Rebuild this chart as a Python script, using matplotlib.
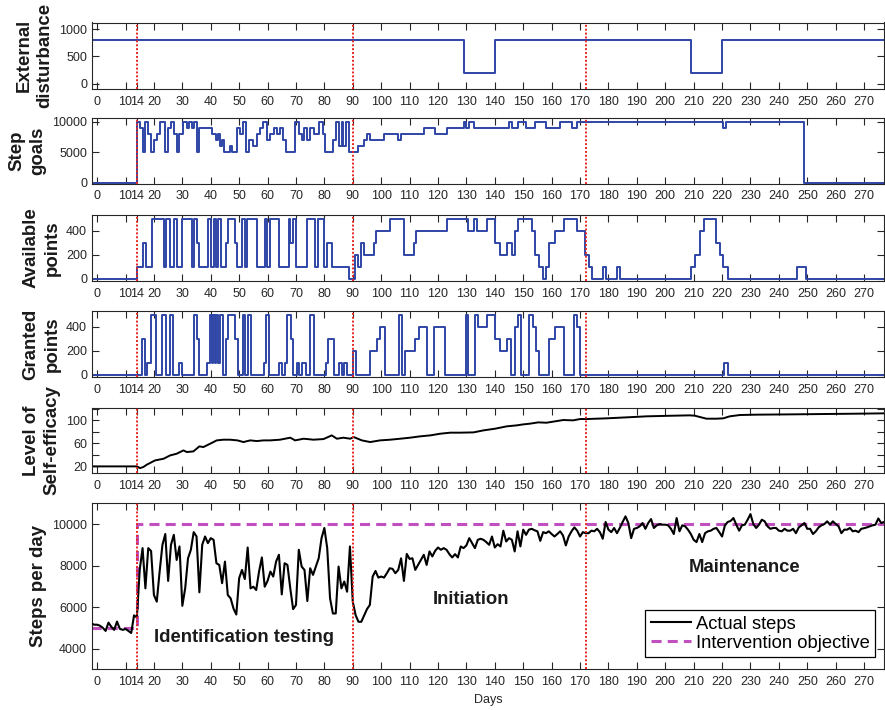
import numpy as np
import matplotlib
matplotlib.use("Agg")
import matplotlib.pyplot as plt
from matplotlib.lines import Line2D

plt.rcParams["font.family"] = ["Liberation Sans", "DejaVu Sans"]

# ---- data ----
phase_days = [14, 90, 172]
xticks = [0, 10, 14] + list(range(20, 271, 10))

# external disturbance (step changes)
dist_days = [-2, 129, 140, 209, 220, 277]
dist_vals = [800, 200, 800, 200, 800, 800]

# step goals (step changes)
goal_days = [-2, 14, 15, 16, 17, 18, 19, 20, 21, 22,
             24, 25, 26, 27, 28, 29, 30.4, 31.6, 32.5, 33.3,
             34.2, 35.1, 36, 40.4, 41.9, 42.7, 43.3, 44, 44.8, 46.8,
             47.4, 49.2, 50.4, 51.5, 52.3, 53.3, 55, 56.2, 57.4, 58.5,
             59.7, 60.7, 62.1, 63.3, 64.4, 65.6, 66.5, 69.7, 70.9, 72.1,
             72.9, 73.8, 75, 76.2, 78, 79.6, 80.3, 83.2, 84.2, 85.3,
             86.1, 86.7, 87.7, 88.8, 92, 94, 95, 96, 101, 106,
             107, 115, 119, 123, 129, 130, 131, 132.5, 145, 146,
             148, 151, 154, 158, 163, 167, 169, 220.5, 221.3, 249,
             277]
goal_vals = [0, 10000, 9000, 5000, 10000, 8000, 5000, 7000, 8000, 10000,
             5000, 9000, 10000, 8000, 5000, 8000, 10000, 9000, 10000, 9000,
             10000, 5000, 9000, 8000, 7000, 8000, 6000, 7000, 5000, 6000,
             5000, 9000, 8000, 10000, 5000, 7000, 6000, 8000, 9000, 10000,
             7000, 8000, 9000, 8000, 9000, 7000, 5000, 10000, 8000, 7000,
             9000, 7000, 9000, 8000, 10000, 8000, 5000, 7000, 10000, 6000,
             10000, 6000, 10000, 5000, 6000, 7000, 8000, 7000, 8000, 7000,
             8000, 9000, 8000, 9000, 10000, 9000, 10000, 9000, 10000, 9000,
             10000, 9000, 10000, 9000, 10000, 9000, 10000, 9000, 10000, 0,
             0]

# available points (step changes)
avail_days = [-2, 14, 16.1, 17.1, 19.2, 23.4, 24.2, 25.7, 26.9, 28.1,
              29.8, 33.3, 34.2, 35.1, 35.9, 39.2, 40, 41, 41.9, 42.7,
              43.5, 45.4, 46.2, 48.6, 49.2, 50.9, 52.1, 52.9, 56.2, 59.2,
              59.7, 60.7, 64.2, 67.4, 68, 68.9, 70.1, 73.8, 76.8, 77.9,
              79.7, 80.9, 82.6, 88.8, 90.8, 92, 92.8, 94, 97.3, 98.2,
              103.2, 107.9, 111.4, 112.3, 123.1, 130.7, 132.5, 133.9, 137.2, 140.1,
              141.9, 144.2, 146, 147.2, 148.3, 153, 154.2, 155.4, 157.1, 158.1,
              158.9, 161.2, 164.2, 168.9, 171.8, 173, 174.2, 178, 179.1, 183,
              184.1, 209, 210.5, 212.3, 213.5, 218, 219.1, 220.3, 222, 246.2,
              249.4, 277]
avail_vals = [0, 100, 300, 100, 500, 100, 500, 100, 500, 100,
              500, 100, 500, 300, 100, 500, 100, 500, 100, 500,
              100, 300, 500, 300, 100, 500, 100, 500, 100, 500,
              100, 500, 100, 500, 300, 500, 100, 500, 100, 500,
              100, 300, 100, 0, 200, 100, 300, 200, 300, 400,
              500, 200, 300, 400, 500, 400, 500, 400, 500, 300,
              200, 300, 200, 400, 500, 400, 200, 100, 0, 100,
              300, 400, 500, 400, 200, 100, 0, 100, 0, 100,
              0, 100, 200, 400, 500, 300, 200, 100, 0, 100,
              0, 0]

# granted points (step changes)
grant_days = [-2, 15.8, 17, 17.6, 18.8, 20.8, 22.9, 24.1, 25.8, 26.8,
              29, 29.9, 34, 35.2, 36, 38.7, 39.6, 40.3, 40.8, 41.4,
              42, 42.6, 43.4, 44.2, 45.2, 46.1, 48.7, 49.5, 51.3, 52.2,
              53.2, 54.3, 58.7, 59.5, 60.4, 64, 65.1, 66, 66.9, 68.1,
              68.9, 70.4, 71.2, 72.2, 73.4, 75.1, 76.3, 80.4, 81.3, 83.3,
              85.1, 86.3, 86.9, 88, 90, 91.2, 96, 98.4, 99.5, 101.5,
              106.3, 107.5, 108.3, 112, 113.2, 116, 118.5, 122.5, 129.9, 130.7,
              133, 134.2, 137.2, 140.1, 141.9, 144.2, 145.6, 147.2, 148, 149.2,
              152.2, 153.4, 154.6, 155.4, 158.9, 161.2, 164.2, 168, 168.9, 170.1,
              220.8, 222, 277]
grant_vals = [0, 300, 0, 100, 500, 0, 500, 0, 500, 0,
              100, 0, 500, 300, 0, 100, 500, 100, 500, 100,
              500, 100, 500, 0, 300, 500, 300, 0, 500, 0,
              500, 0, 100, 500, 0, 100, 0, 100, 500, 300,
              0, 100, 0, 100, 0, 500, 0, 100, 300, 0,
              100, 0, 100, 0, 200, 0, 200, 300, 400, 0,
              500, 0, 200, 300, 400, 0, 400, 0, 500, 0,
              500, 400, 500, 300, 200, 300, 0, 400, 500, 0,
              500, 400, 200, 0, 300, 400, 0, 500, 400, 0,
              100, 0, 0]

# level of self-efficacy
eff_days = [-2, 14, 15.1, 16.3, 17.5, 20.4, 23.4, 25.7, 28, 30.4,
            31.6, 33.9, 36, 37.4, 39.8, 42.1, 44.5, 46.8, 49.4, 51.5,
            53.9, 56.2, 58.6, 60.9, 64.4, 68, 69.7, 72.7, 76.2, 79.7,
            82.6, 84.4, 86.7, 89.1, 90.3, 93.2, 96.1, 99.6, 103.2, 106.7,
            110.2, 113.7, 117.3, 120.8, 124.3, 127.8, 132.5, 136, 140.1, 144.2,
            147.7, 150, 152.3, 155.3, 158.2, 161.2, 164.1, 167.6, 170, 172.3,
            179.3, 186.3, 193.4, 202.8, 208.6, 210.4, 214.5, 218, 220.4, 222.7,
            226.3, 232.1, 243.9, 255.6, 267.4, 277.3]
eff_vals = [20, 20, 17, 19, 23, 30.4, 33.3, 39.1, 42, 47.8,
            44.9, 46.1, 54.8, 53.6, 59.4, 65.2, 66.4, 66.4, 65.2, 62.3,
            65.2, 64, 65.2, 65.2, 66.4, 69.9, 65.2, 68.1, 66.4, 67.5,
            73.9, 68.1, 69.9, 68.1, 71, 65.2, 62.3, 65.2, 66.4, 68.1,
            69.9, 72.2, 73.9, 76.8, 78.6, 78.6, 79.1, 82.6, 85.5, 89.6,
            91.3, 93, 94.2, 96.5, 95.9, 98.3, 100.6, 100, 102.3, 102.3,
            103.5, 105.2, 107, 108.1, 108.7, 108.1, 102.9, 102.9, 103.5, 107,
            109.3, 109.9, 110.4, 111, 111.6, 112.2]

# actual steps per day, days -2 .. 277
steps = [
    5200, 5150,  # days -2, -1
    5150, 5100, 5000, 4850, 5250, 5050, 4900, 5300, 4950, 4900,
    4950, 4850, 4750, 5600, 5500, 7800, 8840, 6900, 8840, 8700,
    6580, 6260, 7700, 9000, 9520, 7260, 9000, 9480, 8270, 8920,
    6060, 6900, 8350, 8760, 9610, 9400, 6710, 9000, 9400, 9080,
    9320, 9240, 8110, 8030, 7150, 8190, 6580, 6420, 5930, 5640,
    7390, 7790, 7350, 8870, 6900, 6980, 6820, 7710, 8390, 6980,
    7260, 7710, 7470, 8190, 8520, 6610, 8110, 8030, 6900, 5900,
    6100, 8760, 7950, 7790, 6290, 7870, 7550, 7950, 8350, 9320,
    9810, 8840, 6420, 5690, 5690, 7950, 6900, 7230, 6740, 8920,
    6260, 5610, 5290, 5290, 5600, 5900, 6100, 7470, 7740, 7420,
    7470, 7420, 7630, 7870, 7840, 7630, 7790, 8350, 7260, 8560,
    8320, 8350, 7790, 8030, 8270, 8520, 8030, 8680, 8440, 8710,
    8870, 8760, 8840, 8760, 8550, 8390, 8550, 8390, 8920, 8840,
    8970, 9320, 9080, 8840, 9240, 9290, 9240, 9130, 9000, 9400,
    8870, 9030, 8920, 9680, 9160, 9320, 9240, 8680, 9650, 8920,
    9730, 9480, 9730, 9770, 9700, 9650, 9190, 9610, 9560, 9650,
    9520, 9400, 9520, 9650, 9450, 8970, 9400, 9650, 9840, 9680,
    9400, 9610, 9560, 9560, 9680, 9650, 9770, 9610, 9290, 10100,
    9730, 9610, 9810, 9560, 9810, 10100, 10370, 10050, 9320, 9770,
    9810, 9890, 10050, 9770, 10050, 10240, 9810, 9940, 10000, 9970,
    9970, 9940, 9770, 9520, 10290, 9650, 9940, 9890, 9730, 9520,
    9240, 9130, 9520, 9130, 9560, 9650, 9680, 9770, 9810, 9610,
    9400, 9940, 10100, 10150, 10290, 9970, 9680, 9940, 9970, 10210,
    10480, 10000, 9810, 9970, 10210, 10130, 9890, 9770, 9810, 9810,
    9680, 9650, 9770, 9680, 9680, 9770, 9560, 9840, 9940, 10050,
    9770, 9770, 9520, 9650, 9840, 9940, 10000, 10130, 9970, 10130,
    10000, 9890, 9560, 9730, 9730, 9810, 9650, 9680, 9610, 9770,
    9800, 9840, 9890, 9940, 9970, 10270, 10050, 10100,
]
step_days = np.arange(-2, -2 + len(steps))

# intervention objective
obj_days = [-2, 14, 14, 277]
obj_vals = [5000, 5000, 10000, 10000]

# ---- figure ----
W, H = 885, 710
fig = plt.figure(figsize=(W / 100, H / 100), dpi=100)

blue = "#2F45A6"
red = "#E8261F"
magenta = "#C24FBF"
axcol = "#262626"
label_font = dict(fontsize=13.4, fontweight="bold", color="#1a1a1a")

panels_px = [(22.5, 89), (118, 183.5), (215, 281), (311, 377), (407.7, 473.3), (503.3, 669.3)]
left_px, right_px = 92, 884

axes = []
for top, bottom in panels_px:
    ax = fig.add_axes([left_px / W, 1 - bottom / H, (right_px - left_px) / W, (bottom - top) / H])
    axes.append(ax)


def style(ax, ylim, yticks, ylabel, ylabels=None):
    ax.set_xlim(-1.8, 277)
    ax.set_ylim(*ylim)
    ax.set_xticks(xticks)
    ax.set_xticklabels([str(t) for t in xticks])
    ax.set_yticks(yticks)
    if ylabels is not None:
        ax.set_yticklabels(ylabels)
    ax.tick_params(direction="in", length=5, width=0.8, top=True, right=True,
                   labelsize=9, color=axcol, labelcolor=axcol)
    ax.tick_params(axis="x", pad=5)
    ax.tick_params(axis="y", pad=3.5)
    for s in ax.spines.values():
        s.set_linewidth(0.8)
        s.set_color(axcol)
    for d in phase_days:
        ax.axvline(d, color=red, ls=(0, (1, 1)), lw=1.4, zorder=5)
    ax.set_ylabel(ylabel, labelpad=4, linespacing=1.3, **label_font)


ax1, ax2, ax3, ax4, ax5, ax6 = axes

ax1.step(dist_days, dist_vals, where="post", color=blue, lw=1.4)
style(ax1, (-100, 1120), [0, 500, 1000], "External\ndisturbance")

ax2.step(goal_days, goal_vals, where="post", color=blue, lw=1.4)
style(ax2, (-150, 10650), [0, 5000, 10000], "Step\ngoals")

ax3.step(avail_days, avail_vals, where="post", color=blue, lw=1.4)
style(ax3, (-20, 530), [0, 200, 400], "Available\npoints")

ax4.step(grant_days, grant_vals, where="post", color=blue, lw=1.4)
style(ax4, (-20, 530), [0, 200, 400], "Granted\npoints")

ax5.plot(eff_days, eff_vals, color="black", lw=1.4)
eff_ticks = [20, 40, 60, 80, 100, 120]
style(ax5, (8, 122), eff_ticks, "Level of\nSelf-efficacy",
      ylabels=["20", "", "60", "", "100", ""])

ax6.plot(step_days, steps, color="black", lw=1.5, label="Actual steps", zorder=3)
ax6.plot(obj_days, obj_vals, color=magenta, lw=2.2, dashes=(3.3, 2),
         label="Intervention objective", zorder=2)
style(ax6, (3000, 11000), [4000, 6000, 8000, 10000], "Steps per day")
ax6.set_xlabel("Days", fontsize=9, color=axcol, labelpad=4)

ann_font = dict(fontsize=13.3, fontweight="bold", color="#1a1a1a", ha="center", va="center")
ax6.text(51.6, 4520, "Identification testing", **ann_font)
ax6.text(131.6, 6340, "Initiation", **ann_font)
ax6.text(228, 7920, "Maintenance", **ann_font)

handles = [Line2D([0], [0], color="black", lw=1.5),
           Line2D([0], [0], color=magenta, lw=2.2, dashes=(3.3, 2))]
leg = ax6.legend(handles, ["Actual steps", "Intervention objective"],
                 loc="lower right", bbox_to_anchor=(0.989, 0.074), borderaxespad=0,
                 fontsize=13.2, handlelength=2.2, handletextpad=0.25,
                 labelspacing=0.1, borderpad=0.3, fancybox=False, framealpha=1)
leg.get_frame().set_edgecolor("black")
leg.get_frame().set_linewidth(0.9)

fig.savefig("out.png", dpi=100)
